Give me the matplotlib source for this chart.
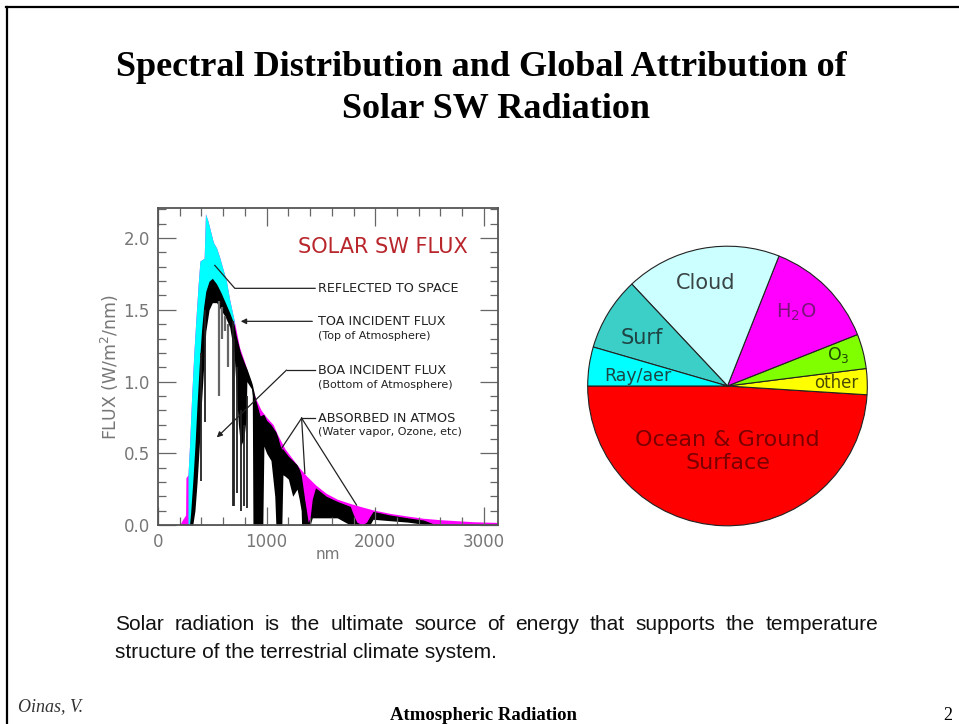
import matplotlib
matplotlib.use("Agg")
import matplotlib.pyplot as plt
from matplotlib.lines import Line2D
from matplotlib.ticker import MultipleLocator, FormatStrFormatter

# ---------------- spectrum data (W/m^2/nm vs nm) ----------------
toa_nm = [200, 220, 246, 254, 257, 276, 290, 310, 330, 350, 370, 386, 425, 437,
          460, 480, 510, 540, 570, 600, 630, 660, 700, 750, 800, 850, 900, 950,
          1000, 1060, 1100, 1170, 1250, 1300, 1370, 1450, 1550, 1650, 1770, 1860,
          1980, 2135, 2300, 2443, 2600, 2750, 2900, 3130]
toa_flux = [0.0, 0.03, 0.06, 0.07, 0.33, 0.35, 0.55, 0.90, 1.20, 1.45, 1.68, 1.84,
            1.86, 2.17, 2.12, 2.06, 1.97, 1.93, 1.86, 1.78, 1.70, 1.57, 1.43, 1.24,
            1.13, 1.00, 0.88, 0.80, 0.75, 0.70, 0.63, 0.53, 0.45, 0.40, 0.34, 0.28,
            0.22, 0.18, 0.15, 0.13, 0.105, 0.081, 0.062, 0.047, 0.037, 0.030, 0.023,
            0.018]

boa_nm = [290, 300, 320, 340, 360, 380, 400, 420, 440, 470, 500, 540, 580, 620,
          660, 700, 720, 740, 760, 790, 812, 818, 860, 868, 874, 900, 940, 965,
          975, 1000, 1040, 1075, 1085, 1100, 1130, 1140, 1150, 1170, 1200, 1240,
          1280, 1300, 1318, 1322, 1350, 1383, 1400, 1420, 1450, 1550, 1650, 1770,
          1800, 1830, 1880, 1920, 1950, 1980, 2135, 2300, 2443, 2530, 2700, 3130]
boa_top = [0.0, 0.08, 0.30, 0.55, 0.85, 1.12, 1.35, 1.52, 1.63, 1.70, 1.72, 1.68,
           1.62, 1.55, 1.48, 1.40, 1.32, 1.26, 1.20, 1.14, 1.10, 1.09, 1.00, 0.98,
           0.96, 0.87, 0.76, 0.77, 0.77, 0.73, 0.70, 0.66, 0.65, 0.62, 0.54, 0.53,
           0.53, 0.51, 0.48, 0.45, 0.42, 0.39, 0.35, 0.33, 0.18, 0.02, 0.05, 0.18,
           0.26, 0.20, 0.165, 0.13, 0.07, 0.02, 0.0, 0.02, 0.06, 0.095, 0.07, 0.05,
           0.035, 0.01, 0.005, 0.004]
boa_bottom = [0.0, 0.0, 0.0, 0.10, 0.30, 0.55, 0.85, 1.10, 1.35, 1.50, 1.55, 1.55,
              1.50, 1.45, 1.38, 1.20, 0.95, 0.70, 0.55, 0.60, 0.75, 1.00, 0.95, 0.90,
              0.0, 0.0, 0.0, 0.0, 0.55, 0.50, 0.45, 0.20, 0.0, 0.0, 0.0, 0.0, 0.35,
              0.34, 0.32, 0.20, 0.25, 0.18, 0.10, 0.0, 0.0, 0.0, 0.0, 0.05, 0.05,
              0.05, 0.05, 0.0, 0.0, 0.0, 0.0, 0.0, 0.0, 0.04, 0.03, 0.02, 0.005, 0.0,
              0.0, 0.0]

# narrow absorption lines (dark) and weaker ones (grey)
line_nm = [393, 430, 687, 700, 728, 760, 795, 815]
line_low = [0.31, 0.72, 0.13, 0.13, 0.22, 0.10, 0.13, 0.12]
line_high = [1.20, 1.50, 1.42, 1.30, 1.10, 0.80, 0.70, 0.90]
weak_nm = [560, 590, 620, 648]
weak_low = [0.90, 1.30, 1.35, 1.10]
weak_high = [1.56, 1.52, 1.46, 1.40]

reflect_range = (276, 700)

# ---------------- global attribution (% of incoming SW) ----------------
pie_names = ["Ocean & Ground\nSurface", "other", "O$_3$", "H$_2$O", "Cloud",
             "Surf", "Ray/aer"]
pie_share = [49, 3, 4, 13, 18, 8.5, 4.5]

# ---------------- styling ----------------
MAGENTA, CYAN, DARKRED = "#ff00ff", "#00ffff", "#b8262c"
pie_colors = ["#ff0000", "#ffff00", "#80ff00", "#ff00ff", "#ccffff", "#3ccfc8",
              "#00ffff"]
pie_text_colors = ["#7a0000", "#4a4a00", "#1f4a00", "#7a147a", "#3a4444",
                   "#1f4444", "#1f4444"]
pie_label_xy = [(0.0, -0.47), (0.78, 0.02), (0.79, 0.22), (0.49, 0.53),
                (-0.16, 0.74), (-0.61, 0.34), (-0.64, 0.07)]
pie_label_size = [16, 12, 12.5, 14, 15, 15, 12.5]

W, H = 959, 724
fig = plt.figure(figsize=(W / 100, H / 100), dpi=100)
fig.patch.set_facecolor("white")


def fx(px):
    return px / W


def fy(py):
    return 1 - py / H


# slide frame
fig.add_artist(Line2D([fx(6), 1], [fy(7), fy(7)], color="black", lw=1.6))
fig.add_artist(Line2D([fx(7), fx(7)], [0, fy(7)], color="black", lw=1.6))

# title
title_kw = dict(ha="center", va="center", fontsize=26, fontweight="bold",
                family="Liberation Serif")
fig.text(fx(481), fy(68), "Spectral Distribution and Global Attribution of", **title_kw)
fig.text(fx(496), fy(110), "Solar SW Radiation", **title_kw)

# ---------------- spectrum panel ----------------
ax = fig.add_axes([fx(158), fy(525), fx(340), 317 / H])
ax.fill_between(toa_nm, 0, toa_flux, color=MAGENTA, lw=0)
vis = [(n, f) for n, f in zip(toa_nm, toa_flux)
       if reflect_range[0] <= n <= reflect_range[1]]
ax.fill_between([v[0] for v in vis], 0, [v[1] for v in vis], color=CYAN, lw=0)
ax.fill_between(boa_nm, 0, boa_top, color="black", lw=0)
ax.fill_between(boa_nm, 0, boa_bottom, color="white", lw=0)
ax.vlines(weak_nm, weak_low, weak_high, color="#666666", lw=1.6)
ax.vlines(line_nm, line_low, line_high, color="#222222", lw=1.3)

ax.set_xlim(0, 3130)
ax.set_ylim(0, 2.21)
ax.xaxis.set_major_locator(MultipleLocator(1000))
ax.xaxis.set_minor_locator(MultipleLocator(200))
ax.yaxis.set_major_locator(MultipleLocator(0.5))
ax.yaxis.set_minor_locator(MultipleLocator(0.1))
ax.yaxis.set_major_formatter(FormatStrFormatter("%.1f"))
ax.tick_params(which="both", direction="in", top=True, right=True,
               color="#666666", width=0.9, labelcolor="#777777", labelsize=12)
ax.tick_params(which="major", length=13, pad=6)
ax.tick_params(which="minor", length=6)
for s in ax.spines.values():
    s.set_color("#555555")
    s.set_linewidth(1.3)
ax.set_xlabel("nm", color="#777777", fontsize=11, labelpad=-3)
ax.set_ylabel("FLUX (W/m$^2$/nm)", color="#777777", fontsize=12.5, labelpad=2)

ax.text(2854, 1.94, "SOLAR SW FLUX", color=DARKRED, fontsize=15,
        ha="right", va="center")

INK = "#222222"
ann = dict(color=INK, lw=0.9)
txt_x = 1474
big = dict(fontsize=9.2, va="center", color=INK)
small = dict(fontsize=8, va="center", color=INK)

ax.plot([1446, 707, 523], [1.65, 1.65, 1.81], **ann)
ax.text(txt_x, 1.65, "REFLECTED TO SPACE", **big)

ax.annotate("", xy=(736, 1.42), xytext=(1446, 1.42),
            arrowprops=dict(arrowstyle="-|>", color=INK, lw=0.9,
                            mutation_scale=8))
ax.text(txt_x, 1.42, "TOA INCIDENT FLUX", **big)
ax.text(txt_x, 1.315, "(Top of Atmosphere)", **small)

ax.plot([1446, 1183], [1.08, 1.08], **ann)
ax.annotate("", xy=(523, 0.597), xytext=(1183, 1.08),
            arrowprops=dict(arrowstyle="-|>", color=INK, lw=0.9,
                            mutation_scale=8, shrinkA=0))
ax.text(txt_x, 1.08, "BOA INCIDENT FLUX", **big)
ax.text(txt_x, 0.975, "(Bottom of Atmosphere)", **small)

ax.plot([1446, 1322], [0.745, 0.745], **ann)
for ex, ey in [(1137, 0.534), (1352, 0.36), (1828, 0.139)]:
    ax.plot([1322, ex], [0.745, ey], **ann)
ax.text(txt_x, 0.745, "ABSORBED IN ATMOS", **big)
ax.text(txt_x, 0.645, "(Water vapor, Ozone, etc)", **small)

# ---------------- pie panel ----------------
pax = fig.add_axes([fx(587), fy(526.5), fx(281), 281 / H])
pax.pie(pie_share, colors=pie_colors, startangle=180, counterclock=True,
        radius=1.0, wedgeprops=dict(edgecolor="#222222", linewidth=0.8))
pax.set_xlim(-1.005, 1.005)
pax.set_ylim(-1.005, 1.005)
pax.set_aspect("equal")
pax.axis("off")
for name, (lx, ly), c, fs in zip(pie_names, pie_label_xy, pie_text_colors,
                                 pie_label_size):
    pax.text(lx, ly, name, ha="center", va="center", color=c, fontsize=fs,
             linespacing=1.2)

# ---------------- caption (first line justified) and footer ----------------
cap_kw = dict(fontsize=15, family="Liberation Sans", color="#111111", va="center")
words = ("Solar radiation is the ultimate source of energy that supports "
         "the temperature").split()
renderer = fig.canvas.get_renderer()
items = [fig.text(0, fy(625), w, **cap_kw) for w in words]
widths = [t.get_window_extent(renderer).width for t in items]
gap = (878 - 115 - sum(widths)) / (len(words) - 1)
xpos = 115.0
for t, w in zip(items, widths):
    t.set_x(fx(xpos))
    xpos += w + gap
fig.text(fx(115), fy(653), "structure of the terrestrial climate system.", **cap_kw)

fig.text(fx(18), fy(707), "Oinas, V.", fontsize=13, style="italic",
         family="Liberation Serif", color="#333333", va="center")
fig.text(fx(483), fy(715), "Atmospheric Radiation", fontsize=13.5,
         fontweight="bold", family="Liberation Serif", ha="center", va="center")
fig.text(fx(948), fy(715), "2", fontsize=13, family="Liberation Serif",
         ha="center", va="center")

fig.savefig("out.png", dpi=100, facecolor="white")
